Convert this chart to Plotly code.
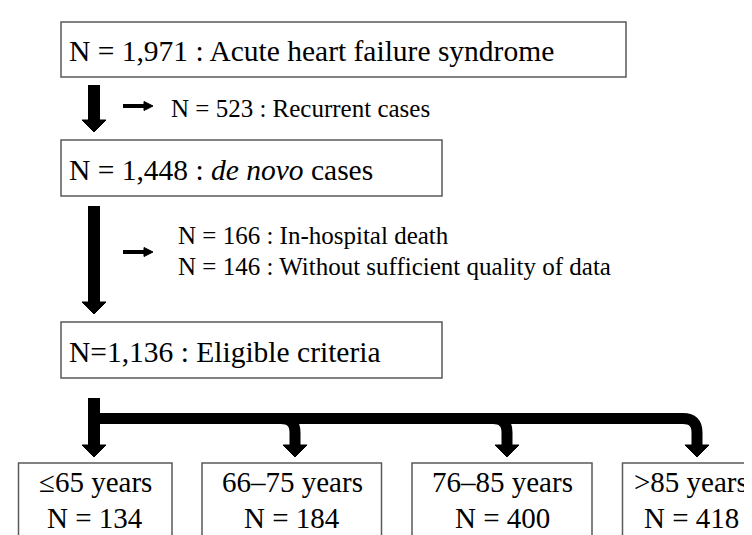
import plotly.graph_objects as go

# ---- data ----
stage_n = [1971, 1448, 1136]
stage_labels = ["Acute heart failure syndrome", "<i>de novo</i> cases", "Eligible criteria"]
excl1_n = [523]
excl1_labels = ["Recurrent cases"]
excl2_n = [166, 146]
excl2_labels = ["In-hospital death", "Without sufficient quality of data"]
group_labels = ["\u226465 years", "66\u201375 years", "76\u201385 years", ">85 years"]
group_n = [134, 184, 400, 418]

FONT = "Liberation Serif, Times New Roman, serif"
BOX_FS = 29.5
GROUP_FS = 29
SIDE_FS = 25
BORDER = "#5a5a5a"

fig = go.Figure()
fig.add_trace(go.Scatter(x=[0, 752], y=[0, 535], mode="markers",
                         marker=dict(opacity=0), hoverinfo="skip", showlegend=False))

shapes = []
annotations = []

def box(x0, y0, x1, y1):
    shapes.append(dict(type="rect", x0=x0, y0=y0, x1=x1, y1=y1,
                       line=dict(color=BORDER, width=1.5), fillcolor="rgba(0,0,0,0)"))

def head_down(cx, tip, w=24, h=12):
    shapes.append(dict(type="path",
                       path=f"M {cx-w/2} {tip-h} L {cx+w/2} {tip-h} L {cx} {tip} Z",
                       fillcolor="black", line=dict(color="black", width=1)))

def stroke(path, width):
    shapes.append(dict(type="path", path=path,
                       line=dict(color="black", width=width), fillcolor="rgba(0,0,0,0)"))

def small_arrow(x0, x1, y):
    stroke(f"M {x0} {y} L {x1-7} {y}", 4)
    shapes.append(dict(type="path",
                       path=f"M {x1-9} {y-4.5} L {x1} {y} L {x1-9} {y+4.5} Z",
                       fillcolor="black", line=dict(color="black", width=1)))

def text(x, y, s, fs, xanchor="left"):
    annotations.append(dict(x=x, y=y, xref="x", yref="y", text=s, showarrow=False,
                            xanchor=xanchor, yanchor="middle",
                            font=dict(family=FONT, size=fs, color="black")))

# main boxes
main_boxes = [(53, 14, 618, 69), (53, 132, 434, 188), (53, 314, 434, 370)]
for i, (x0, y0, x1, y1) in enumerate(main_boxes):
    box(x0, y0, x1, y1)
    eq = "N=" if i == 2 else "N = "
    text(59, (y0 + y1) / 2 + 1.5, f"{eq}{stage_n[i]:,} : {stage_labels[i]}", BOX_FS)

# main arrows
AX = 86
stroke(f"M {AX} 77 L {AX} 114", 12)
head_down(AX, 124)
stroke(f"M {AX} 198 L {AX} 296", 12)
head_down(AX, 306)

# exclusions
small_arrow(115, 145, 98)
text(161, 100, f"N = {excl1_n[0]} : {excl1_labels[0]}", SIDE_FS)
small_arrow(115, 145, 244)
for j, yy in enumerate([227, 258]):
    text(168, yy, f"N = {excl2_n[j]} : {excl2_labels[j]}", SIDE_FS)

# branch
BAR_Y = 410.5
TIP = 449
stroke(f"M {AX} 390 L {AX} {TIP-10}", 12)
stroke(f"M {AX} {BAR_Y} L 675 {BAR_Y} Q 689 {BAR_Y} 689 {BAR_Y+14} L 689 {TIP-10}", 11)
for cx in [287, 499]:
    stroke(f"M {cx-14} {BAR_Y} Q {cx} {BAR_Y} {cx} {BAR_Y+14} L {cx} {TIP-10}", 11)
for cx in [AX, 287, 499, 689]:
    head_down(cx, TIP)

# group boxes
group_boxes = [(10.5, 164), (194, 373.5), (404, 584), (614.5, 756)]
group_cx = [87, 284, 494, 683]
for k, (x0, x1) in enumerate(group_boxes):
    box(x0, 455, x1, 548)
    text(group_cx[k], 474, group_labels[k], GROUP_FS, "center")
    text(group_cx[k], 510, f"N = {group_n[k]}", GROUP_FS, "center")

fig.update_layout(
    width=752, height=535,
    margin=dict(l=0, r=0, t=0, b=0),
    paper_bgcolor="white", plot_bgcolor="white",
    xaxis=dict(range=[0, 752], visible=False, fixedrange=True),
    yaxis=dict(range=[535, 0], visible=False, fixedrange=True),
    shapes=shapes, annotations=annotations, showlegend=False,
)
fig.write_html("out.html")
